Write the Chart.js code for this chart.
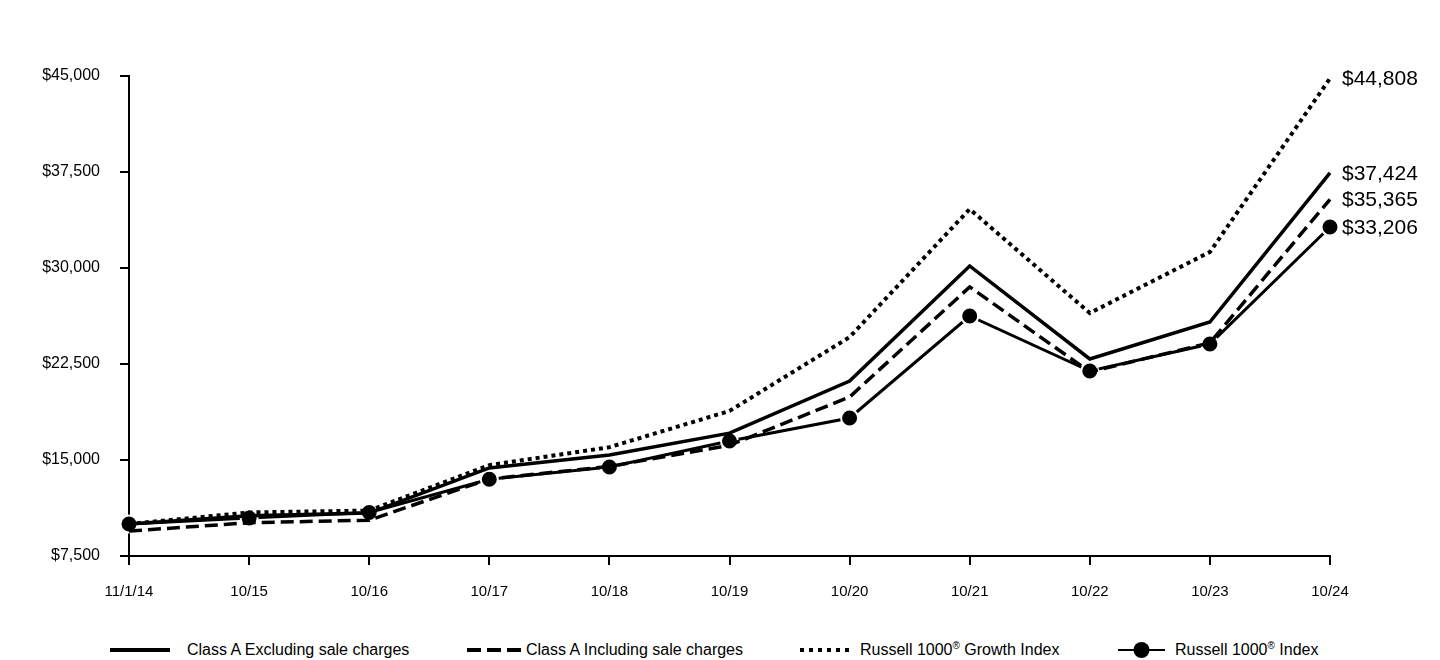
<!DOCTYPE html>
<html>
<head>
<meta charset="utf-8">
<script src="https://cdn.jsdelivr.net/npm/chart.js@4/dist/chart.umd.min.js"></script>
<style>
  html, body { margin: 0; padding: 0; background: #fff; }
  #wrap { position: relative; width: 1440px; height: 660px; font-family: "Liberation Sans", Arial, sans-serif; }
  #chartBox { position: absolute; left: 0; top: 0; width: 1440px; height: 620px; }
  .leg { position: absolute; top: 640px; height: 20px; font-size: 16px; color: #000; line-height: 20px; white-space: nowrap; }
  .leg svg { position: absolute; top: 0; }
  .leg span { position: absolute; top: 0; }
  sup { font-size: 10px; line-height: 0; vertical-align: 6px; }
</style>
</head>
<body>
<div id="wrap">
  <div id="chartBox"><canvas id="growthChart" width="1440" height="620"></canvas></div>
  <div id="legend"></div>
</div>
<script>
// Values
const labels = ['11/1/14', '10/15', '10/16', '10/17', '10/18', '10/19', '10/20', '10/21', '10/22', '10/23', '10/24'];
const classAExcl = [10000, 10650, 10850, 14380, 15390, 17100, 21170, 30160, 22890, 25780, 37424];
const classAIncl = [9450, 10100, 10300, 13520, 14500, 16150, 19920, 28520, 21880, 24150, 35365];
const growthIndex = [10000, 10900, 11050, 14600, 16000, 18830, 24600, 34600, 26480, 31250, 44808];
const russellIndex = [10000, 10470, 10900, 13500, 14450, 16480, 18280, 26250, 21950, 24060, 33206];
const yTicks = [7500, 15000, 22500, 30000, 37500, 45000];

const fmt = v => '$' + v.toLocaleString('en-US');

// draws the final value next to the end of each line
const endLabels = {
  id: 'endLabels',
  afterDatasetsDraw(chart) {
    const ctx = chart.ctx;
    ctx.save();
    ctx.font = '21px "Liberation Sans", Arial, sans-serif';
    ctx.fillStyle = '#000';
    ctx.textBaseline = 'middle';
    ctx.textAlign = 'left';
    chart.data.datasets.forEach((ds, i) => {
      const meta = chart.getDatasetMeta(i);
      const pt = meta.data[meta.data.length - 1];
      ctx.fillText(fmt(ds.data[ds.data.length - 1]), pt.x + 12, pt.y + 1);
    });
    ctx.restore();
  }
};

const ctx = document.getElementById('growthChart').getContext('2d');
new Chart(ctx, {
  type: 'line',
  data: {
    labels: labels,
    datasets: [
      {
        label: 'Class A Excluding sale charges',
        data: classAExcl,
        borderColor: '#000',
        borderWidth: 3.5,
        pointRadius: 0,
        tension: 0,
        clip: false
      },
      {
        label: 'Class A Including sale charges',
        data: classAIncl,
        borderColor: '#000',
        borderWidth: 3.5,
        borderDash: [13, 6],
        pointRadius: 0,
        tension: 0,
        clip: false
      },
      {
        label: 'Russell 1000® Growth Index',
        data: growthIndex,
        borderColor: '#000',
        borderWidth: 4,
        borderDash: [4, 4],
        pointRadius: 0,
        tension: 0,
        clip: false
      },
      {
        label: 'Russell 1000® Index',
        data: russellIndex,
        borderColor: '#000',
        borderWidth: 3,
        pointRadius: 8.5,
        pointBackgroundColor: '#000',
        pointBorderColor: '#fff',
        pointBorderWidth: 2,
        tension: 0,
        clip: false
      }
    ]
  },
  options: {
    responsive: false,
    animation: false,
    layout: { padding: { top: 76, right: 110, left: 0, bottom: 0 } },
    plugins: {
      legend: { display: false },
      tooltip: { enabled: false }
    },
    scales: {
      x: {
        offset: false,
        afterFit: s => { s.height = 64; },
        grid: { display: true, drawOnChartArea: false, drawTicks: true, tickLength: 9, color: '#000', lineWidth: 2 },
        border: { display: true, color: '#000', width: 2 },
        ticks: { color: '#000', padding: 18, maxRotation: 0, autoSkip: false, font: { size: 15, family: '"Liberation Sans", Arial, sans-serif' } }
      },
      y: {
        min: 7500,
        max: 45000,
        afterBuildTicks: s => { s.ticks = yTicks.map(v => ({ value: v })); },
        afterFit: s => { s.width = 129; },
        grid: { display: true, drawOnChartArea: false, drawTicks: true, tickLength: 9, color: '#000', lineWidth: 2 },
        border: { display: true, color: '#000', width: 2 },
        ticks: { color: '#000', padding: 20, callback: v => fmt(v), font: { size: 16, family: '"Liberation Sans", Arial, sans-serif' } }
      }
    }
  },
  plugins: [endLabels]
});

// legend below the chart
const legendItems = [
  { lineX: 110, lineW: 60, textX: 187, dash: '', width: 4, text: 'Class A Excluding sale charges' },
  { lineX: 467, lineW: 54, textX: 526, dash: '14 6', width: 4, text: 'Class A Including sale charges' },
  { lineX: 800, lineW: 51, textX: 860, dash: '4 5', width: 4, text: 'Russell 1000<sup>®</sup> Growth Index' },
  { lineX: 1118, lineW: 47, textX: 1175, dash: '', width: 2, text: 'Russell 1000<sup>®</sup> Index', dot: true }
];
const legendEl = document.getElementById('legend');
legendItems.forEach(it => {
  const d = document.createElement('div');
  d.className = 'leg';
  d.style.left = '0px';
  let svg = `<svg width="${it.lineW}" height="20" style="left:${it.lineX}px" xmlns="http://www.w3.org/2000/svg">` +
    `<line x1="0" y1="10" x2="${it.lineW}" y2="10" stroke="#000" stroke-width="${it.width}"` +
    (it.dash ? ` stroke-dasharray="${it.dash}"` : '') + '/>';
  if (it.dot) svg += `<circle cx="${it.lineW / 2}" cy="10" r="8" fill="#000"/>`;
  svg += '</svg>';
  d.innerHTML = svg + `<span style="left:${it.textX}px">${it.text}</span>`;
  legendEl.appendChild(d);
});
</script>
</body>
</html>
